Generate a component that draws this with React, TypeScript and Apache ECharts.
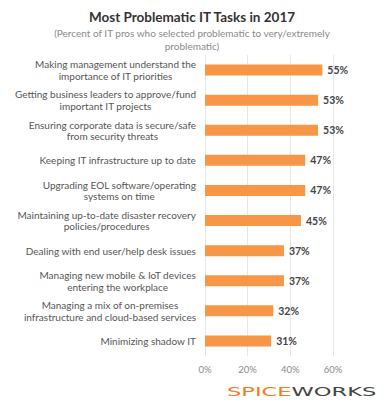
import React, { useEffect, useRef } from "react";
import * as echarts from "echarts";

const categories = [
  "Making management understand the\nimportance of IT priorities",
  "Getting business leaders to approve/fund\nimportant IT projects",
  "Ensuring corporate data is secure/safe\nfrom security threats",
  "Keeping IT infrastructure up to date",
  "Upgrading EOL software/operating\nsystems on time",
  "Maintaining up-to-date disaster recovery\npolicies/procedures",
  "Dealing with end user/help desk issues",
  "Managing new mobile & IoT devices\nentering the workplace",
  "Managing a mix of on-premises\ninfrastructure and cloud-based services",
  "Minimizing shadow IT",
];
const values = [55, 53, 53, 47, 47, 45, 37, 37, 32, 31];
const xTicks = [0, 20, 40, 60];

const FONT = "Lato, 'Open Sans', sans-serif";

export default function App() {
  const ref = useRef<HTMLDivElement>(null);
  useEffect(() => {
    if (!ref.current) return;
    const chart = echarts.init(ref.current, null, { renderer: "svg" });
    chart.setOption({
      animation: false,
      backgroundColor: "#ffffff",
      title: {
        left: "center",
        top: 5,
        text: "Most Problematic IT Tasks in 2017",
        textStyle: { fontFamily: FONT, fontSize: 13.5, fontWeight: "bold", color: "#333" },
        subtext: "(Percent of IT pros who selected problematic to very/extremely\nproblematic)",
        subtextStyle: { fontFamily: FONT, fontSize: 10, color: "#8a8a8a", lineHeight: 12.5 },
        itemGap: 3,
      },
      grid: { left: 205, right: 51, top: 55, bottom: 47, containLabel: false },
      xAxis: {
        type: "value",
        min: xTicks[0],
        max: xTicks[xTicks.length - 1],
        interval: 20,
        axisLine: { show: false },
        axisTick: { show: false },
        splitLine: { show: true, lineStyle: { color: "#e6e6e6", width: 1 } },
        axisLabel: {
          formatter: "{value}%",
          fontFamily: FONT,
          fontSize: 9.5,
          color: "#8a8a8a",
          margin: 8,
        },
      },
      yAxis: {
        type: "category",
        inverse: true,
        data: categories,
        axisLine: { show: false },
        axisTick: { show: false },
        axisLabel: {
          margin: 9,
          formatter: (v: string) =>
            v
              .split("\n")
              .map((l) => `{c|${l}}`)
              .join("\n"),
          rich: {
            c: {
              align: "center",
              fontFamily: FONT,
              fontSize: 10,
              color: "#555",
              lineHeight: 11.5,
            },
          },
        },
      },
      series: [
        {
          type: "bar",
          data: values,
          barWidth: 11,
          itemStyle: { color: "#F79646" },
          label: {
            show: true,
            position: "right",
            distance: 5,
            formatter: "{c}%",
            fontFamily: FONT,
            fontSize: 10.5,
            fontWeight: "bold",
            color: "#444",
          },
        },
      ],
      graphic: [
        {
          type: "text",
          x: 227,
          y: 386,
          scaleX: 1.88,
          style: {
            text: "{s|SPICE}{w|WORKS}",
            rich: {
              s: { fontFamily: "'DejaVu Sans', sans-serif", fontSize: 12, fontWeight: "normal", fill: "#F47B20" },
              w: { fontFamily: "'DejaVu Sans', sans-serif", fontSize: 12, fontWeight: "normal", fill: "#444" },
            },
          },
        },
      ],
    });
    return () => chart.dispose();
  }, []);
  return <div ref={ref} style={{ width: 384, height: 403, position: "absolute", left: 0, top: 0 }} />;
}
